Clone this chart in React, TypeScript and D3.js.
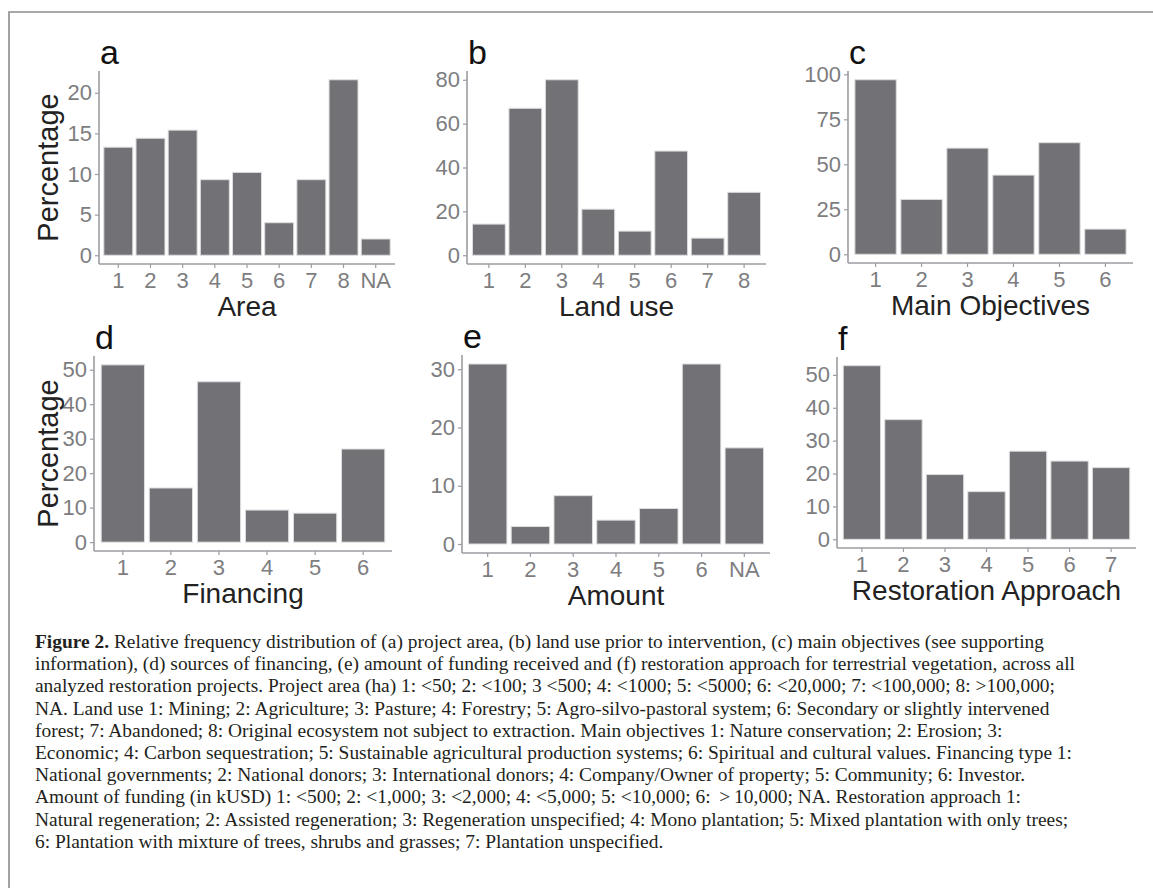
import { useEffect, useRef } from 'react';
import * as d3 from 'd3';

// values (percent of projects)
const areaCats = ['1', '2', '3', '4', '5', '6', '7', '8', 'NA'];
const areaPct = [13.3, 14.4, 15.4, 9.3, 10.2, 4.0, 9.3, 21.6, 2.0];
const areaTicks = [0, 5, 10, 15, 20];

const landUseCats = ['1', '2', '3', '4', '5', '6', '7', '8'];
const landUsePct = [14.2, 67, 80, 21, 11, 47.5, 7.8, 28.7];
const landUseTicks = [0, 20, 40, 60, 80];

const objectiveCats = ['1', '2', '3', '4', '5', '6'];
const objectivePct = [97, 30.5, 59, 44, 62, 14];
const objectiveTicks = [0, 25, 50, 75, 100];

const financingCats = ['1', '2', '3', '4', '5', '6'];
const financingPct = [51.4, 15.7, 46.5, 9.3, 8.4, 27];
const financingTicks = [0, 10, 20, 30, 40, 50];

const amountCats = ['1', '2', '3', '4', '5', '6', 'NA'];
const amountPct = [30.9, 3.0, 8.3, 4.1, 6.1, 30.9, 16.5];
const amountTicks = [0, 10, 20, 30];

const approachCats = ['1', '2', '3', '4', '5', '6', '7'];
const approachPct = [52.8, 36.4, 19.7, 14.5, 26.8, 23.8, 21.8];
const approachTicks = [0, 10, 20, 30, 40, 50];

const captionLines = [
  'Relative frequency distribution of (a) project area, (b) land use prior to intervention, (c) main objectives (see supporting',
  'information), (d) sources of financing, (e) amount of funding received and (f) restoration approach for terrestrial vegetation, across all',
  'analyzed restoration projects. Project area (ha) 1: <50; 2: <100; 3 <500; 4: <1000; 5: <5000; 6: <20,000; 7: <100,000; 8: >100,000;',
  'NA. Land use 1: Mining; 2: Agriculture; 3: Pasture; 4: Forestry; 5: Agro-silvo-pastoral system; 6: Secondary or slightly intervened',
  'forest; 7: Abandoned; 8: Original ecosystem not subject to extraction. Main objectives 1: Nature conservation; 2: Erosion; 3:',
  'Economic; 4: Carbon sequestration; 5: Sustainable agricultural production systems; 6: Spiritual and cultural values. Financing type 1:',
  'National governments; 2: National donors; 3: International donors; 4: Company/Owner of property; 5: Community; 6: Investor.',
  'Amount of funding (in kUSD) 1: <500; 2: <1,000; 3: <2,000; 4: <5,000; 5: <10,000; 6: \u2009>\u200910,000; NA. Restoration approach 1:',
  'Natural regeneration; 2: Assisted regeneration; 3: Regeneration unspecified; 4: Mono plantation; 5: Mixed plantation with only trees;',
  '6: Plantation with mixture of trees, shrubs and grasses; 7: Plantation unspecified.',
];

const panels = [
  { letter: 'a', title: 'Area', cats: areaCats, values: areaPct, ticks: areaTicks, yLabel: true, box: [99, 395, 71, 264] },
  { letter: 'b', title: 'Land use', cats: landUseCats, values: landUsePct, ticks: landUseTicks, yLabel: false, box: [467, 766, 71, 264] },
  { letter: 'c', title: 'Main Objectives', cats: objectiveCats, values: objectivePct, ticks: objectiveTicks, yLabel: false, box: [848, 1133, 71, 263] },
  { letter: 'd', title: 'Financing', cats: financingCats, values: financingPct, ticks: financingTicks, yLabel: true, box: [94, 392, 356, 551] },
  { letter: 'e', title: 'Amount', cats: amountCats, values: amountPct, ticks: amountTicks, yLabel: false, box: [462, 770, 355, 553] },
  { letter: 'f', title: 'Restoration Approach', cats: approachCats, values: approachPct, ticks: approachTicks, yLabel: false, box: [837, 1136, 357, 548] },
];

const SANS = '"Liberation Sans", Arial, sans-serif';
const SERIF = '"Liberation Serif", "Times New Roman", serif';
const AXIS_GREY = '#9c9ca2';

export default function App() {
  const svgRef = useRef<SVGSVGElement>(null);

  useEffect(() => {
    if (!svgRef.current) return;
    const width = 1153;
    const height = 888;

    d3.select(svgRef.current).selectAll('*').remove();
    const svg = d3.select(svgRef.current).attr('width', width).attr('height', height);

    svg.append('rect').attr('width', width).attr('height', height).attr('fill', '#fff');

    // frame around the figure (only top and left edges are visible)
    svg
      .append('path')
      .attr('d', `M9,${height} V12 H${width}`)
      .attr('fill', 'none')
      .attr('stroke', '#8c8c8c')
      .attr('stroke-width', 1.6);

    panels.forEach((p) => {
      const [x0, x1, y0, y1] = p.box;
      const maxV = d3.max(p.values) || 1;

      // ggplot-like: bars 0.9 wide, 0.6 units of expansion on the discrete axis
      const x = d3.scaleBand<string>().domain(p.cats).range([x0, x1]).paddingInner(0.1).paddingOuter(0.15);
      const y = d3.scaleLinear().domain([-0.05 * maxV, 1.05 * maxV]).range([y1, y0]);

      const g = svg.append('g');

      g.selectAll('rect.bar')
        .data(p.values)
        .enter()
        .append('rect')
        .attr('class', 'bar')
        .attr('x', (_, i) => x(p.cats[i]) as number)
        .attr('width', x.bandwidth())
        .attr('y', (d) => y(d))
        .attr('height', (d) => y(0) - y(d))
        .attr('fill', '#727276')
        .attr('stroke', '#dedee0')
        .attr('stroke-width', 1);

      // axes
      const yAxis = g
        .append('g')
        .attr('transform', `translate(${x0},0)`)
        .call(d3.axisLeft(y).tickValues(p.ticks).tickSize(4).tickPadding(3).tickFormat(d3.format('d')));
      const xAxis = g
        .append('g')
        .attr('transform', `translate(0,${y1})`)
        .call(d3.axisBottom(x).tickSize(4).tickPadding(4));

      [yAxis, xAxis].forEach((ax) => {
        ax.select('.domain').attr('stroke', AXIS_GREY).attr('stroke-width', 1.6);
        ax.selectAll('.tick line').attr('stroke', AXIS_GREY).attr('stroke-width', 1.2);
        ax.selectAll('.tick text')
          .attr('fill', '#7d7d80')
          .style('font-family', SANS)
          .style('font-size', '22px');
      });
      // plain lines instead of the outer tick caps d3 draws by default
      yAxis.select('.domain').attr('d', `M0,${y0}V${y1}`);
      xAxis.select('.domain').attr('d', `M${x0},0H${x1}`);

      // panel letter
      g.append('text')
        .attr('x', x0 + 1)
        .attr('y', y0 - 7)
        .attr('fill', '#111')
        .style('font-family', SANS)
        .style('font-size', '34px')
        .text(p.letter);

      // x axis title
      g.append('text')
        .attr('x', (x0 + x1) / 2)
        .attr('y', y1 + 52)
        .attr('text-anchor', 'middle')
        .attr('fill', '#222')
        .style('font-family', SANS)
        .style('font-size', '28px')
        .text(p.title);

      if (p.yLabel) {
        g.append('text')
          .attr('transform', `translate(58,${(y0 + y1) / 2}) rotate(-90)`)
          .attr('text-anchor', 'middle')
          .attr('fill', '#222')
          .style('font-family', SANS)
          .style('font-size', '29px')
          .text('Percentage');
      }
    });

    // caption
    const cap = svg.append('g').style('font-family', SERIF).style('font-size', '19.5px').attr('fill', '#231f20');
    const lines = cap
      .selectAll('text')
      .data(captionLines)
      .enter()
      .append('text')
      .attr('x', 35)
      .attr('y', (_, i) => 648 + i * 22.2);

    lines.each(function (d, i) {
      const t = d3.select(this);
      if (i === 0) {
        t.append('tspan').style('font-weight', 'bold').text('Figure 2.');
        t.append('tspan').text(' ' + d);
      } else {
        t.text(d);
      }
    });

    // squeeze the serif face to the narrower width of the printed caption
    const nodes = lines.nodes() as SVGTextElement[];
    const ref = nodes[1].getComputedTextLength();
    const k = ref > 0 ? 1040 / ref : 1;
    nodes.forEach((n) => {
      const w = n.getComputedTextLength();
      d3.select(n).attr('textLength', w * k).attr('lengthAdjust', 'spacingAndGlyphs');
    });
  }, []);

  return (
    <svg
      ref={svgRef}
      style={{ position: 'absolute', left: 0, top: 0, display: 'block' }}
    />
  );
}
